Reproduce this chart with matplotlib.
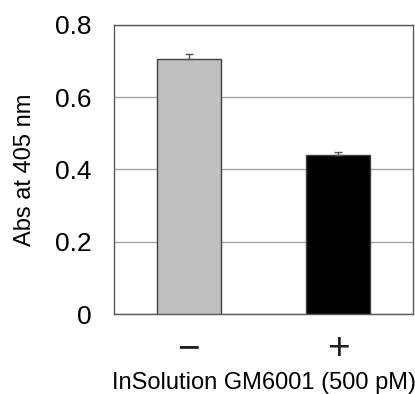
import numpy as np
import matplotlib.pyplot as plt

plt.rcParams['font.family'] = ['Liberation Sans', 'DejaVu Sans']

labels = ['\u2212', '+']
means = [0.706, 0.439]
errs = [0.012, 0.008]
colors = ['#c0c0c0', '#000000']
yticks = [0, 0.2, 0.4, 0.6, 0.8]
yticklabels = ['0', '0.2', '0.4', '0.6', '0.8']

fig = plt.figure(figsize=(4.15, 3.94), dpi=100)
ax = fig.add_axes([0.275, 0.203, 0.720, 0.734])

x = np.arange(len(means))
ax.bar(x, means, width=0.43, color=colors, edgecolor='#404040', linewidth=1.0, zorder=3)
ax.errorbar(x, means, yerr=[np.zeros(len(errs)), errs], fmt='none',
            ecolor='#555555', elinewidth=1.0, capsize=3, capthick=1.0, zorder=4)

ax.set_xlim(-0.5, 1.5)
ax.set_ylim(0, 0.8)
ax.set_yticks(yticks)
ax.set_yticklabels(yticklabels)
ax.set_xticks(x)
ax.set_xticklabels(labels, fontsize=28, color='#222222')
ax.yaxis.grid(True, color='#a6a6a6', linewidth=1.0, zorder=0)
ax.tick_params(axis='y', length=0, pad=16, labelsize=19)
ax.tick_params(axis='x', length=0, pad=12)
for s in ax.spines.values():
    s.set_color('#595959')
    s.set_linewidth(1.0)

ax.set_ylabel('Abs at 405 nm', fontsize=17, labelpad=14)
ax.set_xlabel('InSolution GM6001 (500 pM)', fontsize=17, labelpad=4)

fig.savefig('out.png', dpi=100)
